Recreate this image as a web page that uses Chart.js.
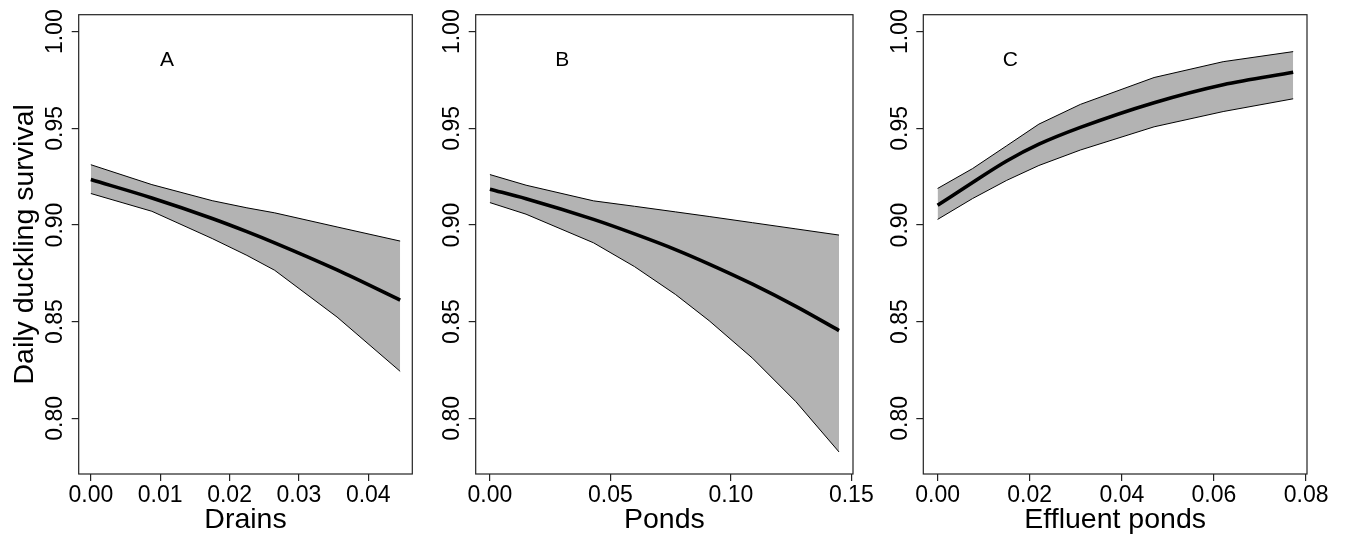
<!DOCTYPE html>
<html lang="en">
<head>
<meta charset="utf-8" />
<title>Daily duckling survival</title>
<style>
  * { margin: 0; padding: 0; }
  body { width: 1346px; height: 538px; background: #fff; overflow: hidden; }
  .panel { position: absolute; top: 0; height: 538px; }
</style>
</head>
<body>
<div class="panel" style="left:0;width:440px"><canvas id="chartA"></canvas></div>
<div class="panel" style="left:435px;width:455px"><canvas id="chartB"></canvas></div>
<div class="panel" style="left:885px;width:461px"><canvas id="chartC"></canvas></div>

<script src="https://cdn.jsdelivr.net/npm/chart.js"></script>
<script>
// --- data ---
const yTicks = [0.80, 0.85, 0.90, 0.95, 1.00];
const yTickLabels = ["0.80", "0.85", "0.90", "0.95", "1.00"];

// A: drains
const drainsX = [0, 0.0088, 0.0175, 0.0225, 0.0265, 0.0355, 0.0446];
const drainsUpper = [0.9312, 0.9209, 0.9126, 0.9089, 0.9063, 0.8990, 0.8917];
const drainsMid = [0.9235, 0.9140, 0.9034, 0.8966, 0.8908, 0.8768, 0.8612];
const drainsLower = [0.9163, 0.9071, 0.8930, 0.8843, 0.8766, 0.8524, 0.8243];
const drainsTicks = [0, 0.01, 0.02, 0.03, 0.04];
const drainsTickLabels = ["0.00", "0.01", "0.02", "0.03", "0.04"];

// B: ponds
const pondsX = [0, 0.015, 0.043, 0.06, 0.077, 0.091, 0.109, 0.127, 0.1449];
const pondsUpper = [0.9261, 0.9206, 0.9125, 0.9097, 0.9068, 0.9044, 0.9012, 0.8980, 0.8948];
const pondsMid = [0.9185, 0.9136, 0.9029, 0.8954, 0.8873, 0.8798, 0.8694, 0.8579, 0.8454];
const pondsLower = [0.9116, 0.9056, 0.8908, 0.8785, 0.8641, 0.8505, 0.8311, 0.8086, 0.7826];
const pondsTicks = [0, 0.05, 0.10, 0.15];
const pondsTickLabels = ["0.00", "0.05", "0.10", "0.15"];

// C: effluent ponds
const effluentX = [0, 0.0076, 0.015, 0.022, 0.031, 0.047, 0.062, 0.0772];
const effluentUpper = [0.9189, 0.9292, 0.9410, 0.9522, 0.9624, 0.9763, 0.9845, 0.9897];
const effluentMid = [0.9102, 0.9220, 0.9331, 0.9418, 0.9505, 0.9633, 0.9726, 0.9790];
const effluentLower = [0.9029, 0.9137, 0.9231, 0.9308, 0.9388, 0.9508, 0.9587, 0.9653];
const effluentTicks = [0, 0.02, 0.04, 0.06, 0.08];
const effluentTickLabels = ["0.00", "0.02", "0.04", "0.06", "0.08"];

const panelLetters = ["A", "B", "C"];
const letterX = [0.011, 0.030, 0.0158];
const letterY = 0.986;

const FONT = "'Liberation Sans', Arial, sans-serif";

function pts(xs, ys) {
  return xs.map((x, i) => ({ x: x, y: ys[i] }));
}

// draws box, tick labels, titles and panel letter
const rText = {
  id: "rText",
  afterDraw(chart, args, opts) {
    const { ctx, chartArea: { left, right, top, bottom } } = chart;
    const xs = chart.scales.x;
    const ys = chart.scales.y;
    ctx.save();
    ctx.strokeStyle = "#222";
    ctx.lineWidth = 1.2;
    ctx.strokeRect(left, top, right - left, bottom - top);

    ctx.fillStyle = "#000";
    ctx.font = "23px " + FONT;
    ctx.textAlign = "center";
    ctx.textBaseline = "alphabetic";
    opts.xTicks.forEach((v, i) => {
      ctx.fillText(opts.xLabels[i], xs.getPixelForValue(v), bottom + 27.5);
    });
    yTicks.forEach((v, i) => {
      ctx.save();
      ctx.translate(left - 16.7, ys.getPixelForValue(v));
      ctx.rotate(-Math.PI / 2);
      ctx.fillText(yTickLabels[i], 0, 0);
      ctx.restore();
    });

    ctx.font = "28.5px " + FONT;
    ctx.fillText(opts.title, (left + right) / 2, bottom + 54);
    if (opts.yTitle) {
      ctx.save();
      ctx.translate(33, (top + bottom) / 2);
      ctx.rotate(-Math.PI / 2);
      ctx.fillText(opts.yTitle, 0, 0);
      ctx.restore();
    }

    ctx.font = "21px " + FONT;
    ctx.fillText(opts.letter, xs.getPixelForValue(opts.letterX), ys.getPixelForValue(letterY) + 7.5);
    ctx.restore();
  },
};

function makePanel(id, p) {
  return new Chart(document.getElementById(id), {
    type: "line",
    data: {
      datasets: [
        { data: pts(p.x, p.upper), borderColor: "#000", borderWidth: 1, fill: "+1", backgroundColor: "#b3b3b3" },
        { data: pts(p.x, p.lower), borderColor: "#000", borderWidth: 1, fill: false },
        { data: pts(p.x, p.mid), borderColor: "#000", borderWidth: 3.6, fill: false, cubicInterpolationMode: "monotone" },
      ],
    },
    options: {
      responsive: true,
      maintainAspectRatio: false,
      animation: false,
      elements: { point: { radius: 0 }, line: { tension: 0 } },
      layout: { padding: { left: 0, right: p.padRight, top: 14.7, bottom: 0 } },
      plugins: {
        legend: { display: false },
        tooltip: { enabled: false },
        filler: { drawTime: "beforeDatasetsDraw" },
        rText: { xTicks: p.ticks, xLabels: p.tickLabels, title: p.title, yTitle: p.yTitle, letter: p.letter, letterX: p.letterX },
      },
      scales: {
        x: {
          type: "linear",
          min: p.min,
          max: p.max,
          afterBuildTicks: (s) => { s.ticks = p.ticks.map((v) => ({ value: v })); },
          afterFit: (s) => { s.height = 64; },
          ticks: { display: false },
          border: { display: false },
          grid: { drawOnChartArea: false, tickLength: 7, tickColor: "#222", lineWidth: 1.2 },
        },
        y: {
          min: 0.7712,
          max: 1.0088,
          afterBuildTicks: (s) => { s.ticks = yTicks.map((v) => ({ value: v })); },
          afterFit: (s) => { s.width = p.yWidth; },
          ticks: { display: false },
          border: { display: false },
          grid: { drawOnChartArea: false, tickLength: 7, tickColor: "#222", lineWidth: 1.2 },
        },
      },
    },
    plugins: [rText],
  });
}

makePanel("chartA", {
  x: drainsX, upper: drainsUpper, mid: drainsMid, lower: drainsLower,
  ticks: drainsTicks, tickLabels: drainsTickLabels, min: -0.00175, max: 0.04635,
  title: "Drains", yTitle: "Daily duckling survival", letter: panelLetters[0], letterX: letterX[0],
  yWidth: 78.7, padRight: 27.7,
});
makePanel("chartB", {
  x: pondsX, upper: pondsUpper, mid: pondsMid, lower: pondsLower,
  ticks: pondsTicks, tickLabels: pondsTickLabels, min: -0.0059, max: 0.1507,
  title: "Ponds", yTitle: null, letter: panelLetters[1], letterX: letterX[1],
  yWidth: 40.7, padRight: 37,
});
makePanel("chartC", {
  x: effluentX, upper: effluentUpper, mid: effluentMid, lower: effluentLower,
  ticks: effluentTicks, tickLabels: effluentTickLabels, min: -0.0031, max: 0.0802,
  title: "Effluent ponds", yTitle: null, letter: panelLetters[2], letterX: letterX[2],
  yWidth: 38.3, padRight: 39,
});
</script>
</body>
</html>
